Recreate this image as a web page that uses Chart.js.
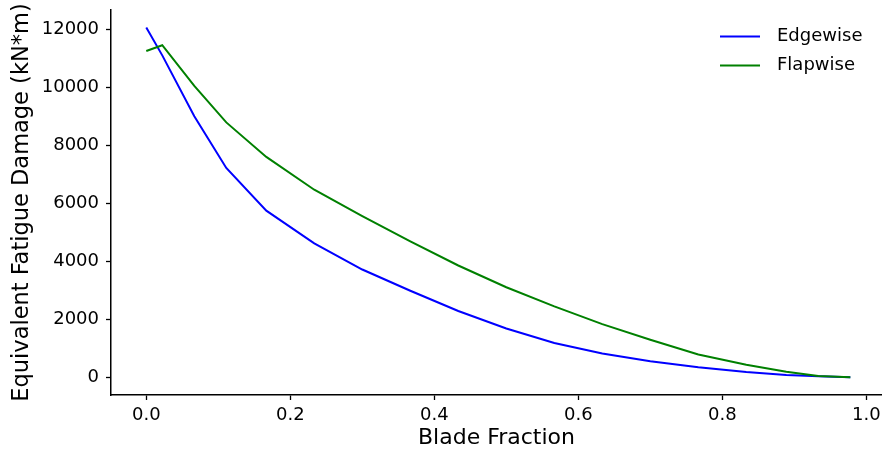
<!DOCTYPE html>
<html>
<head>
<meta charset="utf-8">
<script src="https://cdn.jsdelivr.net/npm/chart.js@4/dist/chart.umd.min.js"></script>
<style>
  html, body { margin: 0; padding: 0; background: #ffffff; }
  #wrap { width: 882px; height: 450px; }
</style>
</head>
<body>
<div id="wrap"><canvas id="c" width="882" height="450"></canvas></div>
<script>
// Blade stations (fraction of blade span)
const bladeFraction = [0, 0.0222, 0.0667, 0.1111, 0.1667, 0.2333, 0.3, 0.3667, 0.4333, 0.5, 0.5667, 0.6333, 0.7, 0.7667, 0.8333, 0.8889, 0.9333, 0.9778];
// Equivalent fatigue damage (kN*m)
const edgewise = [12060, 11100, 9000, 7220, 5750, 4620, 3720, 2990, 2290, 1690, 1190, 830, 560, 350, 190, 90, 40, 10];
const flapwise = [11250, 11450, 10050, 8790, 7600, 6470, 5560, 4690, 3860, 3110, 2450, 1840, 1300, 790, 440, 200, 50, 10];
const seriesLabels = ["Edgewise", "Flapwise"];
const xTickValues = [0.0, 0.2, 0.4, 0.6, 0.8, 1.0];
const yTickValues = [0, 2000, 4000, 6000, 8000, 10000, 12000];
const xTitle = "Blade Fraction";
const yTitle = "Equivalent Fatigue Damage (kN*m)";

const FONT = "'DejaVu Sans', sans-serif";

const toPts = (ys) => bladeFraction.map((x, i) => ({ x: x, y: ys[i] }));

const legendPlugin = {
  id: 'mplLegend',
  afterDraw(chart) {
    const ctx = chart.ctx;
    const sets = chart.data.datasets.slice().sort((a, b) => a.legendIndex - b.legendIndex);
    ctx.save();
    ctx.font = "18px " + FONT;
    ctx.textBaseline = 'middle';
    ctx.textAlign = 'left';
    sets.forEach((ds, i) => {
      const y = 36.5 + i * 29;
      ctx.strokeStyle = ds.borderColor;
      ctx.lineWidth = 2;
      ctx.beginPath();
      ctx.moveTo(720, y);
      ctx.lineTo(760, y);
      ctx.stroke();
      ctx.fillStyle = '#000000';
      ctx.fillText(ds.label, 777, y);
    });
    ctx.restore();
  }
};

new Chart(document.getElementById('c'), {
  type: 'line',
  data: {
    datasets: [
      { label: seriesLabels[0], data: toPts(edgewise), borderColor: '#0000ff', backgroundColor: '#0000ff',
        borderWidth: 2, pointRadius: 0, tension: 0, fill: false, order: 1, legendIndex: 0 },
      { label: seriesLabels[1], data: toPts(flapwise), borderColor: '#008000', backgroundColor: '#008000',
        borderWidth: 2, pointRadius: 0, tension: 0, fill: false, order: 0, legendIndex: 1 }
    ]
  },
  options: {
    responsive: false,
    animation: false,
    devicePixelRatio: 1,
    layout: { padding: { top: 10, right: 0, bottom: 0, left: 0 } },
    plugins: {
      legend: { display: false },
      tooltip: { enabled: false }
    },
    scales: {
      x: {
        type: 'linear',
        min: -0.049,
        max: 1.0218,
        afterBuildTicks: (s) => { s.ticks = xTickValues.map(v => ({ value: v })); },
        afterFit: (s) => { s.height = 55; s.paddingLeft = 0; s.paddingRight = 0; },
        grid: { display: true, drawOnChartArea: false, drawTicks: true, tickLength: 5, tickColor: '#000000', tickWidth: 1.3 },
        border: { display: true, color: '#000000', width: 1.5 },
        ticks: {
          color: '#000000', font: { family: FONT, size: 18 }, padding: 5, maxRotation: 0, autoSkip: false,
          callback: (v) => Number(v).toFixed(1)
        },
        title: { display: true, text: xTitle, color: '#000000', font: { family: FONT, size: 22, lineHeight: 1 }, padding: { top: 0, bottom: 1 } }
      },
      y: {
        type: 'linear',
        min: -603,
        max: 12663,
        afterBuildTicks: (s) => { s.ticks = yTickValues.map(v => ({ value: v })); },
        afterFit: (s) => { s.width = 111; s.paddingTop = 0; s.paddingBottom = 0; },
        grid: { display: true, drawOnChartArea: false, drawTicks: true, tickLength: 5, tickColor: '#000000', tickWidth: 1.3 },
        border: { display: true, color: '#000000', width: 1.5 },
        ticks: {
          color: '#000000', font: { family: FONT, size: 18 }, padding: 7, autoSkip: false,
          callback: (v) => String(v)
        },
        title: { display: true, text: yTitle, color: '#000000', font: { family: FONT, size: 22.5, lineHeight: 1 }, padding: { top: 11, bottom: 0 } }
      }
    }
  },
  plugins: [legendPlugin]
});
</script>
</body>
</html>
